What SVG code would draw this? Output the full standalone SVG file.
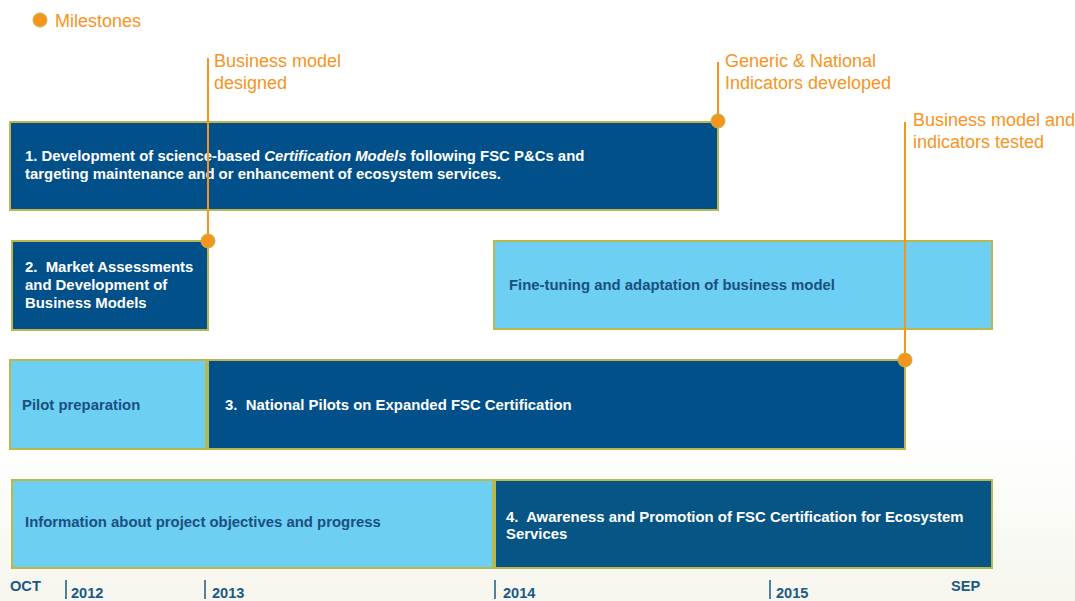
<svg xmlns="http://www.w3.org/2000/svg" width="1075" height="601" viewBox="0 0 1075 601">
<defs>
<linearGradient id="bg" x1="0" y1="0" x2="0" y2="1">
<stop offset="0" stop-color="#ffffff"/>
<stop offset="0.72" stop-color="#ffffff"/>
<stop offset="1" stop-color="#f6f6ee"/>
</linearGradient>
<style>
text{white-space:pre}
.dark{fill:#02508a;stroke:#b8b84e;stroke-width:2}
.light{fill:#6dcff3;stroke:#b8b84e;stroke-width:2}
.wt{font-family:"Liberation Sans",Arial,sans-serif;font-size:14.9px;font-weight:bold;fill:#ffffff}
.dt{font-family:"Liberation Sans",Arial,sans-serif;font-size:14.9px;font-weight:bold;fill:#1a4f80}
.ms{font-family:"Liberation Sans",Arial,sans-serif;font-size:18px;fill:#f7941d}
.ml{stroke:#f7941d;stroke-width:2;fill:none}
.dot{fill:#f7941d;stroke:#b8b84e;stroke-width:1}
.ax{font-family:"Liberation Sans",Arial,sans-serif;font-size:14.6px;font-weight:bold;fill:#1a5a85}
.tick{stroke:#1a5a85;stroke-width:1.5}
</style>
</defs>
<rect x="0" y="0" width="1075" height="601" fill="url(#bg)"/>

<g id="legend">
<circle cx="40" cy="20" r="7" class="dot"/>
<text x="55" y="27" class="ms">Milestones</text>
</g>

<g id="task1">
<rect x="10" y="122" width="708" height="88" class="dark"/>
<text x="25" y="161" class="wt">1. Development of science-based <tspan font-style="italic">Certification Models</tspan> following FSC P&amp;Cs and</text>
<text x="25" y="179" class="wt">targeting maintenance and or enhancement of ecosystem services.</text>
</g>

<g id="task2">
<rect x="12" y="241" width="196" height="89" class="dark"/>
<text x="25" y="272" class="wt">2.  Market Assessments</text>
<text x="25" y="290" class="wt">and Development of</text>
<text x="25" y="308" class="wt">Business Models</text>
</g>

<g id="finetune">
<rect x="494" y="241" width="498" height="88" class="light"/>
<text x="509" y="290" class="dt">Fine-tuning and adaptation of business model</text>
</g>

<g id="pilotprep">
<rect x="10" y="360" width="196" height="89" class="light"/>
<text x="22" y="410" class="dt">Pilot preparation</text>
</g>

<g id="task3">
<rect x="208" y="360" width="697" height="89" class="dark"/>
<text x="225" y="410" class="wt">3.  National Pilots on Expanded FSC Certification</text>
</g>

<g id="info">
<rect x="12" y="480" width="481" height="88" class="light"/>
<text x="25" y="527" class="dt">Information about project objectives and progress</text>
</g>

<g id="task4">
<rect x="495" y="480" width="497" height="88" class="dark" style="fill:#065585"/>
<text x="506" y="522" class="wt">4.  Awareness and Promotion of FSC Certification for Ecosystem</text>
<text x="506" y="539" class="wt">Services</text>
</g>

<g id="connectors">
<line x1="208" y1="58" x2="208" y2="241" class="ml"/>
<line x1="718" y1="62" x2="718" y2="121" class="ml"/>
<line x1="905" y1="122" x2="905" y2="360" class="ml"/>
</g>

<g id="milestone1">
<circle cx="208" cy="241" r="7" class="dot"/>
<text x="214" y="67" class="ms">Business model</text>
<text x="214" y="89" class="ms">designed</text>
</g>
<g id="milestone2">
<circle cx="718" cy="121" r="7" class="dot"/>
<text x="725" y="67" class="ms">Generic &amp; National</text>
<text x="725" y="89" class="ms">Indicators developed</text>
</g>
<g id="milestone3">
<circle cx="905" cy="360" r="7" class="dot"/>
<text x="913" y="126" class="ms">Business model and</text>
<text x="913" y="148" class="ms">indicators tested</text>
</g>

<g id="axis">
<text x="10" y="591" class="ax">OCT</text>
<line x1="66" y1="580" x2="66" y2="599" class="tick"/>
<text x="71" y="598" class="ax">2012</text>
<line x1="205" y1="580" x2="205" y2="599" class="tick"/>
<text x="212" y="598" class="ax">2013</text>
<line x1="495" y1="580" x2="495" y2="599" class="tick"/>
<text x="503" y="598" class="ax">2014</text>
<line x1="770" y1="580" x2="770" y2="599" class="tick"/>
<text x="776" y="598" class="ax">2015</text>
<text x="951" y="591" class="ax">SEP</text>
</g>
</svg>
